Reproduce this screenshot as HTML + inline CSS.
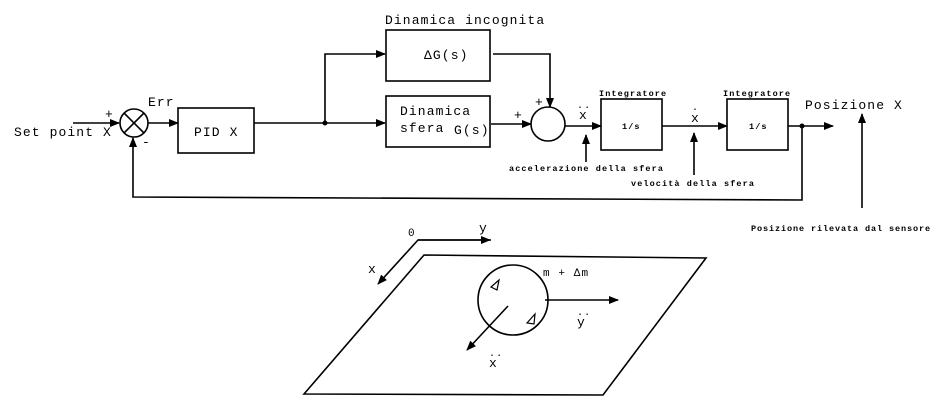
<!DOCTYPE html>
<html><head><meta charset="utf-8"><style>body{margin:0;background:#fff}svg{display:block}text{font-family:"Liberation Mono",monospace;fill:#000}</style></head>
<body>
<svg width="945" height="413" viewBox="0 0 945 413" xmlns="http://www.w3.org/2000/svg">
<defs><marker id="a" markerWidth="10" markerHeight="8" refX="9" refY="4" orient="auto" markerUnits="userSpaceOnUse"><path d="M0,0 L10,4 L0,8 z" fill="#000"/></marker></defs>
<g stroke="#000" stroke-width="1.6" fill="none">
<line x1="73" y1="123" x2="119" y2="123" marker-end="url(#a)"/>
<circle cx="134" cy="123" r="14"/>
<line x1="124" y1="113" x2="144" y2="133"/><line x1="144" y1="113" x2="124" y2="133"/>
<line x1="148" y1="123" x2="178" y2="123" marker-end="url(#a)"/>
<rect x="178" y="108" width="76" height="45"/>
<line x1="254" y1="123" x2="385" y2="123" marker-end="url(#a)"/>
<polyline points="325,123 325,54 385,54" marker-end="url(#a)"/>
<rect x="386" y="30" width="104" height="51"/>
<rect x="386" y="96" width="104" height="51"/>
<polyline points="493,54 550,54 550,107" marker-end="url(#a)"/>
<line x1="491" y1="124" x2="531" y2="124" marker-end="url(#a)"/>
<circle cx="548" cy="124" r="17"/>
<line x1="565" y1="126" x2="601" y2="126" marker-end="url(#a)"/>
<rect x="601" y="99" width="61" height="51"/>
<line x1="662" y1="126" x2="727" y2="126" marker-end="url(#a)"/>
<rect x="727" y="99" width="61" height="51"/>
<line x1="788" y1="126" x2="833" y2="126" marker-end="url(#a)"/>
<polyline points="802,126 802,200 133,197 133,138" marker-end="url(#a)"/>
<line x1="586" y1="162" x2="586" y2="135" marker-end="url(#a)"/>
<line x1="694" y1="175" x2="694" y2="133" marker-end="url(#a)"/>
<line x1="862" y1="208" x2="862" y2="114" marker-end="url(#a)"/>
<polygon points="304,394 424,255 706,258 603,395"/>
<polyline points="491,240 418,240 378,284" marker-end="url(#a)"/>
<line x1="418" y1="240" x2="490" y2="240" marker-end="url(#a)"/>
<circle cx="513" cy="300" r="35"/>
<line x1="545" y1="300" x2="618" y2="300" marker-end="url(#a)"/>
<line x1="508" y1="306" x2="467" y2="350" marker-end="url(#a)"/>
<polygon points="491,287 499,280 497,290" stroke-width="1.2"/>
<polygon points="527,323 535,314 534,324" stroke-width="1.2"/>
</g>
<circle cx="325" cy="123" r="2.5"/><circle cx="802" cy="126" r="2.5"/>
<g font-size="13" letter-spacing="1.1">
<text x="14" y="136">Set point X</text>
<text x="105" y="118">+</text>
<text x="142" y="146">-</text>
<text x="148" y="106">Err</text>
<text x="194" y="136">PID X</text>
<text x="385" y="24">Dinamica incognita</text>
<text x="424" y="59">ΔG(s)</text>
<text x="400" y="115">Dinamica</text>
<text x="400" y="132">sfera</text>
<text x="454" y="134">G(s)</text>
<text x="514" y="119">+</text>
<text x="535" y="106">+</text>
<text x="579" y="119">x</text>
<text x="577" y="108" font-size="10">..</text>
<text x="691" y="122">x</text>
<text x="692" y="110" font-size="10">.</text>
<text x="805" y="109">Posizione X</text>
<text x="408" y="236" font-size="11">0</text>
<text x="479" y="232">y</text>
<text x="368" y="273">x</text>
<text x="543" y="276" font-size="11">m + Δm</text>
<text x="577" y="326">y</text>
<text x="577" y="315" font-size="10">..</text>
<text x="489" y="367">x</text>
<text x="489" y="356" font-size="10">..</text>
</g>
<g font-size="8.5" font-weight="bold" letter-spacing="1.1">
<text x="599" y="96">Integratore</text>
<text x="723" y="96">Integratore</text>
<text x="622" y="129">1/s</text>
<text x="749" y="129">1/s</text>
<text x="509" y="171">accelerazione della sfera</text>
<text x="631" y="186">velocità della sfera</text>
<text x="751" y="231" letter-spacing="0.9">Posizione rilevata dal sensore</text>
</g>
</svg>
</body></html>
